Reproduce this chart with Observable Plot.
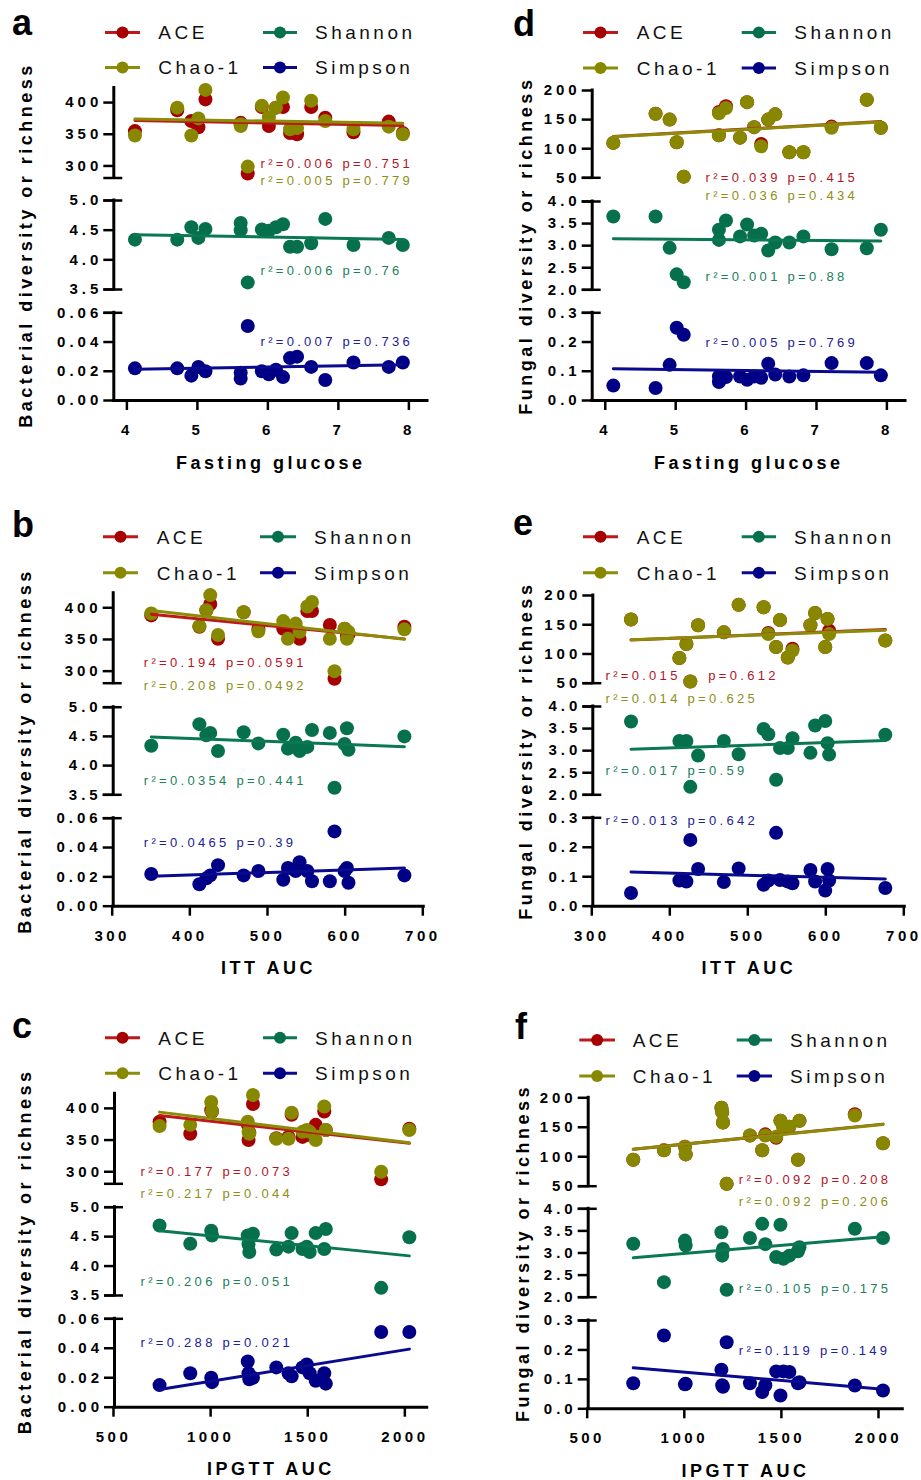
<!DOCTYPE html>
<html><head><meta charset="utf-8"><title>Diversity vs metabolic measures</title>
<script src="https://cdn.jsdelivr.net/npm/d3@7"></script>
<script src="https://cdn.jsdelivr.net/npm/@observablehq/plot@0.6"></script>
<style>
html,body{margin:0;padding:0;background:#fff;}
#page{position:relative;width:921px;height:1480px;overflow:hidden;font-family:"Liberation Sans",Arial,Helvetica,sans-serif;}
.panel{position:absolute;}
.panel svg{position:absolute;left:0;top:0;}
</style></head><body><div id="page"></div><script>
// ---------------- data ----------------
const fastingGlucose = [4.1,4.7,4.9,5.0,5.1,5.6,5.6,5.7,5.9,6.0,6.1,6.2,6.3,6.4,6.6,6.8,7.2,7.7,7.9];
const ittAuc = [349,411,420,425,435,468,487,519,525,535,540,550,556,579,585,598,601,603,675];
const ipgttAuc = [732,890,998,1002,1186,1190,1194,1213,1333,1396,1412,1468,1490,1505,1536,1580,1588,1873,2018];

// (a) bacterial vs fasting glucose
const bactGlucoseACE = [355,388,371,361,405,368,366,288,393,363,392,393,352,350,393,376,353,370,352];
const bactGlucoseChao1 = [348,392,348,375,420,363,366,299,395,377,392,408,358,360,403,371,358,362,350];
const bactGlucoseShannon = [4.34,4.34,4.55,4.37,4.52,4.62,4.50,3.62,4.51,4.49,4.55,4.60,4.22,4.22,4.28,4.69,4.25,4.37,4.25];
const bactGlucoseSimpson = [0.022,0.022,0.017,0.023,0.020,0.015,0.019,0.051,0.020,0.018,0.021,0.016,0.029,0.030,0.023,0.014,0.026,0.023,0.026];
// (b) bacterial vs ITT AUC
const bactIttACE = [388,370,396,406,351,393,367,367,364,368,351,395,395,373,288,367,355,358,370];
const bactIttChao1 = [391,371,396,420,357,393,363,379,351,375,362,402,409,351,300,367,351,362,366];
const bactIttShannon = [4.34,4.71,4.52,4.56,4.25,4.57,4.38,4.53,4.29,4.39,4.25,4.32,4.61,4.56,3.62,4.37,4.64,4.27,4.50];
const bactIttSimpson = [0.022,0.015,0.019,0.021,0.028,0.021,0.024,0.018,0.026,0.024,0.030,0.024,0.017,0.017,0.051,0.024,0.026,0.016,0.021];
// (c) bacterial vs IPGTT AUC
const bactIpgttACE = [379,360,397,395,375,350,362,407,353,355,390,355,360,358,374,395,366,288,368];
const bactIpgttChao1 = [372,374,410,396,379,363,360,421,352,352,393,363,366,363,350,403,366,300,366];
const bactIpgttShannon = [4.69,4.38,4.60,4.52,4.52,4.37,4.24,4.55,4.28,4.33,4.56,4.29,4.33,4.24,4.56,4.29,4.63,3.63,4.49];
const bactIpgttSimpson = [0.015,0.023,0.020,0.017,0.031,0.023,0.019,0.020,0.027,0.023,0.021,0.027,0.029,0.023,0.018,0.023,0.016,0.051,0.051];
// (d) fungal vs fasting glucose
const fungGlucoseACE = [110,160,150,111,52,123,163,173,119,180,137,108,150,159,94,94,138,184,136];
const fungGlucoseChao1 = [110,160,150,111,52,123,161,170,119,180,137,104,150,159,94,94,136,184,136];
const fungGlucoseShannon = [3.66,3.66,2.95,2.35,2.17,3.36,3.13,3.57,3.21,3.48,3.23,3.27,2.89,3.07,3.07,3.21,2.92,2.94,3.36];
const fungGlucoseSimpson = [0.051,0.043,0.122,0.249,0.225,0.063,0.082,0.080,0.082,0.071,0.082,0.078,0.126,0.089,0.082,0.086,0.128,0.128,0.086];
// (e) fungal vs ITT AUC
const fungIttACE = [159,93,117,53,149,137,184,180,136,112,158,94,109,149,170,112,160,140,123];
const fungIttChao1 = [159,93,117,53,149,137,184,180,134,112,158,94,106,149,170,112,160,134,123];
const fungIttShannon = [3.66,3.22,3.22,2.18,2.89,3.22,2.92,3.49,3.37,2.34,3.06,3.06,3.28,2.95,3.57,3.67,3.17,2.91,3.36];
const fungIttSimpson = [0.045,0.087,0.084,0.225,0.126,0.082,0.128,0.073,0.087,0.249,0.089,0.084,0.078,0.123,0.084,0.053,0.126,0.087,0.062];
// (f) fungal vs IPGTT AUC
const fungIpgttACE = [95,111,117,104,183,176,158,54,136,111,138,132,161,150,151,95,161,172,123];
const fungIpgttChao1 = [95,111,117,104,183,176,158,54,136,111,136,134,161,150,151,95,161,170,123];
const fungIpgttShannon = [3.21,2.34,3.28,3.17,3.47,2.94,3.09,2.17,3.34,3.66,3.20,2.91,3.64,2.87,2.94,3.04,3.13,3.55,3.34];
const fungIpgttSimpson = [0.087,0.249,0.083,0.085,0.133,0.080,0.075,0.226,0.087,0.057,0.080,0.127,0.045,0.127,0.125,0.087,0.090,0.079,0.062];

// labels
const seriesLabels = ["ACE", "Chao-1", "Shannon", "Simpson"];
const xLabels = ["Fasting glucose", "ITT AUC", "IPGTT AUC"];
const yLabels = ["Bacterial diversity or richness", "Fungal diversity or richness"];
const statsA = ["r²=0.006 p=0.751", "r²=0.005 p=0.779", "r²=0.006 p=0.76", "r²=0.007 p=0.736"];
const statsB = ["r²=0.194 p=0.0591", "r²=0.208 p=0.0492", "r²=0.0354 p=0.441", "r²=0.0465 p=0.39"];
const statsC = ["r²=0.177 p=0.073", "r²=0.217 p=0.044", "r²=0.206 p=0.051", "r²=0.288 p=0.021"];
const statsD = ["r²=0.039 p=0.415", "r²=0.036 p=0.434", "r²=0.001 p=0.88", "r²=0.005 p=0.769"];
const statsE = ["r²=0.015\u00A0\u00A0\u00A0 p=0.612", "r²=0.014 p=0.625", "r²=0.017 p=0.59", "r²=0.013 p=0.642"];
const statsF = ["r²=0.092 p=0.208", "r²=0.092 p=0.206", "r²=0.105 p=0.175", "r²=0.119 p=0.149"];
const bactTopTicks = [300, 350, 400], bactMidTicks = [3.5, 4.0, 4.5, 5.0], bactBotTicks = [0, 0.02, 0.04, 0.06];
const fungTopTicks = [50, 100, 150, 200], fungMidTicks = [2.0, 2.5, 3.0, 3.5, 4.0], fungBotTicks = [0, 0.1, 0.2, 0.3];
const glucoseTicks = [4, 5, 6, 7, 8], ittTicks = [300, 400, 500, 600, 700], ipgttTicks = [500, 1000, 1500, 2000];

// ---------------- styles / layout ----------------
const FONT = '"Liberation Sans", Arial, Helvetica, sans-serif';
const seriesStyle = [
  {key: "ace", dot: "#A60000", line: "#BC1A1A", text: "#B3141E"},
  {key: "chao", dot: "#888800", line: "#8C8C08", text: "#8E8E16"},
  {key: "shannon", dot: "#06704C", line: "#0A7850", text: "#1B805B"},
  {key: "simpson", dot: "#000087", line: "#0A0A8E", text: "#202098"}
];
const styleOf = Object.fromEntries(seriesStyle.map(s => [s.key, s]));

const yAxes = {
  bacterial: [
    {keys: ["ace", "chao"], domain: [281, 423], ticks: bactTopTicks, fmt: d3.format("d"), breaks: [281]},
    {keys: ["shannon"], domain: [3.5, 5], ticks: bactMidTicks, fmt: d3.format(".1f"), breaks: [3.5, 5]},
    {keys: ["simpson"], domain: [0, 0.06], ticks: bactBotTicks, fmt: d3.format(".2f"), breaks: [0.06]}
  ],
  fungal: [
    {keys: ["ace", "chao"], domain: [50, 200], ticks: fungTopTicks, fmt: d3.format("d"), breaks: [50]},
    {keys: ["shannon"], domain: [2, 4], ticks: fungMidTicks, fmt: d3.format(".1f"), breaks: [2, 4]},
    {keys: ["simpson"], domain: [0, 0.3], ticks: fungBotTicks, fmt: d3.format(".1f"), breaks: [0.3]}
  ]
};

const panelData = {
  a: {x: fastingGlucose, ace: bactGlucoseACE, chao: bactGlucoseChao1, shannon: bactGlucoseShannon, simpson: bactGlucoseSimpson, kind: "bacterial", xLabel: xLabels[0], yLabel: yLabels[0], xTicks: glucoseTicks, stats: statsA},
  b: {x: ittAuc, ace: bactIttACE, chao: bactIttChao1, shannon: bactIttShannon, simpson: bactIttSimpson, kind: "bacterial", xLabel: xLabels[1], yLabel: yLabels[0], xTicks: ittTicks, stats: statsB},
  c: {x: ipgttAuc, ace: bactIpgttACE, chao: bactIpgttChao1, shannon: bactIpgttShannon, simpson: bactIpgttSimpson, kind: "bacterial", xLabel: xLabels[2], yLabel: yLabels[0], xTicks: ipgttTicks, stats: statsC},
  d: {x: fastingGlucose, ace: fungGlucoseACE, chao: fungGlucoseChao1, shannon: fungGlucoseShannon, simpson: fungGlucoseSimpson, kind: "fungal", xLabel: xLabels[0], yLabel: yLabels[1], xTicks: glucoseTicks, stats: statsD},
  e: {x: ittAuc, ace: fungIttACE, chao: fungIttChao1, shannon: fungIttShannon, simpson: fungIttSimpson, kind: "fungal", xLabel: xLabels[1], yLabel: yLabels[1], xTicks: ittTicks, stats: statsE},
  f: {x: ipgttAuc, ace: fungIpgttACE, chao: fungIpgttChao1, shannon: fungIpgttShannon, simpson: fungIpgttSimpson, kind: "fungal", xLabel: xLabels[2], yLabel: yLabels[1], xTicks: ipgttTicks, stats: statsF}
};

const layout = [
  {id: "a", left: 0, top: 0, w: 460, h: 500, axisX: 113.3, xEnd: 427, xDomain: [3.8, 8.25],
   subs: [[87.5, 177.5], [200, 289], [312.3, 400]], titleDx: -88, statX: 260, statY: [167.3, 184.3, 274, 345],
   legRows: [32.5, 67.5], legCols: [[105, 140, 158.3], [263, 297, 315]], letter: [12, 35]},
  {id: "d", left: 460, top: 0, w: 461, h: 500, axisX: 591.7, xEnd: 905, xDomain: [3.8, 8.25],
   subs: [[90, 177.3], [201, 289.3], [312.3, 400]], titleDx: -65.7, statX: 705, statY: [181.7, 199.3, 280.7, 346],
   legRows: [32.5, 68], legCols: [[583, 618, 636.7], [741.7, 776, 794.3]], letter: [513, 36]},
  {id: "b", left: 0, top: 500, w: 460, h: 500, axisX: 112.7, xEnd: 423.3, xDomain: [300, 700],
   subs: [[592.7, 682.7], [706.7, 794.3], [817.7, 905.7]], titleDx: -87.7, statX: 143.3, statY: [666.7, 689, 784, 846],
   legRows: [536.7, 572.7], legCols: [[103, 138, 156.7], [260, 296, 314]], letter: [12, 536.5]},
  {id: "e", left: 460, top: 500, w: 461, h: 500, axisX: 592.3, xEnd: 904.3, xDomain: [300, 700],
   subs: [[595, 682.7], [706, 794.3], [817.3, 905.7]], titleDx: -66.3, statX: 605, statY: [679, 702.7, 774.3, 824],
   legRows: [536.7, 572.7], legCols: [[583, 618, 636.7], [741.7, 776, 794]], letter: [513, 535]},
  {id: "c", left: 0, top: 1000, w: 460, h: 480, axisX: 114, xEnd: 426.7, xDomain: [500, 2110],
   subs: [[1093.3, 1183.3], [1206.7, 1295], [1318.3, 1406.7]], titleDx: -89, statX: 140, statY: [1175, 1197.3, 1285, 1346.7],
   legRows: [1037.7, 1073.3], legCols: [[105, 140, 158.3], [263, 297, 315]], letter: [12, 1038]},
  {id: "f", left: 460, top: 1000, w: 461, h: 480, axisX: 587.7, xEnd: 902.3, xDomain: [500, 2120],
   subs: [[1097.3, 1185.7], [1208.3, 1296.7], [1320, 1408.3]], titleDx: -64.7, statX: 738.3, statY: [1183.3, 1205.7, 1292.7, 1354.3],
   legRows: [1040, 1076], legCols: [[579.3, 615, 632.7], [736.7, 772, 790]], letter: [515, 1039]}
];

// ---------------- drawing ----------------
const page = d3.select("#page");

function applySpacing(svg) {
  const s = d3.select(svg);
  s.selectAll('g[aria-label="y-axis tick label"]').style("letter-spacing", "4px");
  s.selectAll('g[aria-label="x-axis tick label"]').style("letter-spacing", "3.5px");
  s.selectAll('g[aria-label="text"]').each(function () {
    const fs = parseFloat(this.getAttribute("font-size"));
    d3.select(this).style("letter-spacing", fs >= 17 ? "3.5px" : "3.3px");
  });
}

for (const p of layout) {
  const d = panelData[p.id];
  const rows = d.x.map((x, i) => ({x, ace: d.ace[i], chao: d.chao[i], shannon: d.shannon[i], simpson: d.simpson[i]}));
  const div = page.append("div").attr("class", "panel")
    .style("left", p.left + "px").style("top", p.top + "px")
    .style("width", p.w + "px").style("height", p.h + "px");
  const fw = p.xEnd - p.axisX;

  yAxes[d.kind].forEach((cfg, idx) => {
    const [t, b] = p.subs[idx];
    const marks = [
      Plot.ruleX([p.xDomain[0]], {stroke: "#000", strokeWidth: 3, strokeLinecap: "square"}),
      Plot.axisY({ticks: cfg.ticks, tickFormat: cfg.fmt, tickSize: 10, tickPadding: 1.5, strokeWidth: 2.5,
                  fontSize: 15, fontWeight: "bold", label: null, fill: "#000", stroke: "#000"}),
      Plot.ruleY(cfg.breaks, {insetLeft: -10, insetRight: fw - 9, stroke: "#000", strokeWidth: 2.5})
    ];
    if (idx === 2) {
      marks.push(Plot.ruleY([cfg.domain[0]], {stroke: "#000", strokeWidth: 3, strokeLinecap: "square"}));
      marks.push(Plot.axisX({ticks: d.xTicks, tickFormat: d3.format("d"), tickSize: 10, tickPadding: 14, strokeWidth: 2.5,
                             dx: -1, fontSize: 15, fontWeight: "bold", label: null, fill: "#000", stroke: "#000"}));
    }
    for (const k of cfg.keys) {
      marks.push(Plot.dot(rows, {x: "x", y: k, r: 7, fill: styleOf[k].dot}));
    }
    for (const k of cfg.keys) {
      marks.push(Plot.linearRegressionY(rows, {x: "x", y: k, stroke: styleOf[k].line, strokeWidth: 3, ci: 0}));
    }
    if (idx === 1) {
      marks.push(Plot.text([d.yLabel], {text: v => v, frameAnchor: "left", textAnchor: "middle", rotate: -90, dx: p.titleDx,
                                        fontSize: 18, fontWeight: "bold", fill: "#000"}));
    }
    if (idx === 2) {
      marks.push(Plot.text([d.xLabel], {text: v => v, frameAnchor: "bottom", textAnchor: "middle", dy: 68, lineAnchor: "bottom",
                                        fontSize: 18, fontWeight: "bold", fill: "#000"}));
      d.stats.forEach((s, k) => {
        marks.push(Plot.text([s], {text: v => v, frameAnchor: "top-left", dx: p.statX - p.axisX, dy: p.statY[k] - t,
                                   textAnchor: "start", lineAnchor: "bottom", fontSize: 13, fill: seriesStyle[k].text}));
      });
    }
    const svg = Plot.plot({
      width: p.w, height: p.h,
      marginLeft: p.axisX - p.left, marginRight: p.left + p.w - p.xEnd,
      marginTop: t - p.top, marginBottom: p.top + p.h - b,
      x: idx === 2 ? {domain: p.xDomain} : {domain: p.xDomain, axis: null},
      y: {domain: cfg.domain},
      style: {background: "transparent", overflow: "visible", fontFamily: FONT, color: "#000"},
      marks
    });
    applySpacing(svg);
    div.node().appendChild(svg);
  });
}

// legends and panel letters
const ov = page.append("svg").attr("width", 921).attr("height", 1480)
  .style("position", "absolute").style("left", "0").style("top", "0").style("font-family", FONT);
const legendSlots = [[0, 0, 0], [1, 0, 1], [0, 1, 2], [1, 1, 3]]; // [row, col, series]
for (const p of layout) {
  ov.append("text").attr("x", p.letter[0]).attr("y", p.letter[1])
    .attr("font-size", 36).attr("font-weight", "bold").attr("fill", "#000").text(p.id);
  for (const [row, col, si] of legendSlots) {
    const y = p.legRows[row];
    const [x1, x2, tx] = p.legCols[col];
    const st = seriesStyle[si];
    ov.append("line").attr("x1", x1).attr("x2", x2).attr("y1", y).attr("y2", y)
      .attr("stroke", st.line).attr("stroke-width", 3);
    ov.append("circle").attr("cx", (x1 + x2) / 2).attr("cy", y).attr("r", 6).attr("fill", st.dot);
    ov.append("text").attr("x", tx).attr("y", y).attr("dy", "0.36em")
      .attr("font-size", 19).attr("fill", "#111").style("letter-spacing", "3.5px").text(seriesLabels[si]);
  }
}
</script></body></html>
